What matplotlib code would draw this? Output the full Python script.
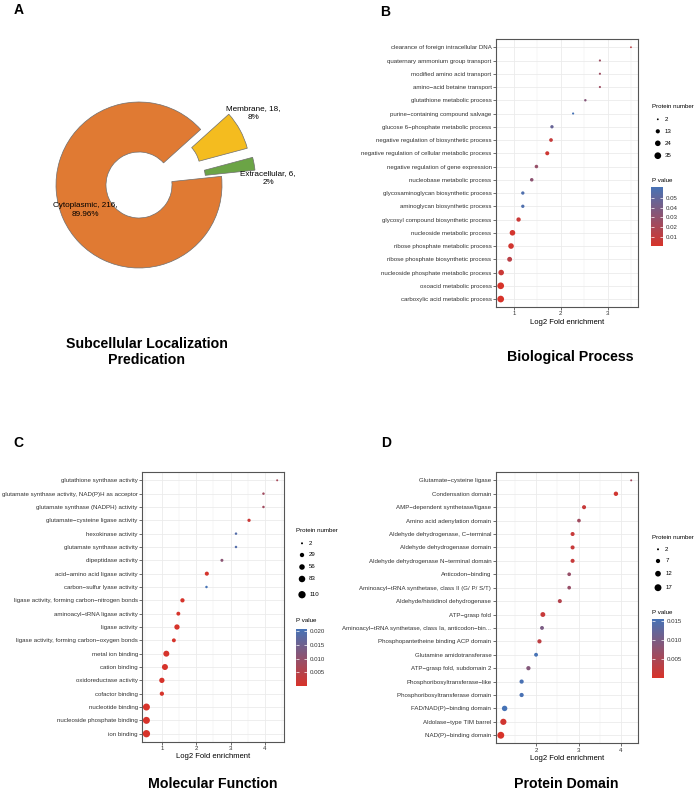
import numpy as np
import matplotlib
matplotlib.use("Agg")
import matplotlib.pyplot as plt
from matplotlib.colors import LinearSegmentedColormap, Normalize
from matplotlib.cm import ScalarMappable

plt.rcParams['font.family'] = ['Liberation Sans', 'DejaVu Sans']

# ---------------- DATA ----------------
loc_labels = ["Extracellular", "Membrane", "Cytoplasmic"]
loc_counts = [6, 18, 216]
loc_pct = ["2%", "8%", "89.96%"]
loc_colors = ["#6BA446", "#F4BC1F", "#E07A33"]

bp_terms = ["clearance of foreign intracellular DNA", "quaternary ammonium group transport",
            "modified amino acid transport", "amino\u2212acid betaine transport",
            "glutathione metabolic process", "purine\u2212containing compound salvage",
            "glucose 6\u2212phosphate metabolic process", "negative regulation of biosynthetic process",
            "negative regulation of cellular metabolic process", "negative regulation of gene expression",
            "nucleobase metabolic process", "glycosaminoglycan biosynthetic process",
            "aminoglycan biosynthetic process", "glycosyl compound biosynthetic process",
            "nucleoside metabolic process", "ribose phosphate metabolic process",
            "ribose phosphate biosynthetic process", "nucleoside phosphate metabolic process",
            "oxoacid metabolic process", "carboxylic acid metabolic process"]
bp_fold = [3.49, 2.83, 2.83, 2.83, 2.52, 2.26, 1.81, 1.79, 1.71, 1.48,
           1.38, 1.19, 1.19, 1.10, 0.97, 0.94, 0.91, 0.73, 0.72, 0.72]
bp_count = [2, 3, 3, 3, 4, 3, 8, 10, 12, 9, 9, 8, 8, 14, 24, 24, 18, 24, 35, 35]
bp_p = [0.012, 0.025, 0.025, 0.025, 0.035, 0.062, 0.048, 0.008, 0.004, 0.028,
        0.032, 0.058, 0.058, 0.006, 0.002, 0.003, 0.013, 0.006, 0.0005, 0.0003]
bp_size_breaks = [2, 13, 24, 35]
bp_p_breaks = [0.01, 0.02, 0.03, 0.04, 0.05]

mf_terms = ["glutathione synthase activity", "glutamate synthase activity, NAD(P)H as acceptor",
            "glutamate synthase (NADPH) activity", "glutamate\u2212cysteine ligase activity",
            "hexokinase activity", "glutamate synthase activity", "dipeptidase activity",
            "acid\u2212amino acid ligase activity", "carbon\u2212sulfur lyase activity",
            "ligase activity, forming carbon\u2212nitrogen bonds", "aminoacyl\u2212tRNA ligase activity",
            "ligase activity", "ligase activity, forming carbon\u2212oxygen bonds", "metal ion binding",
            "cation binding", "oxidoreductase activity", "cofactor binding", "nucleotide binding",
            "nucleoside phosphate binding", "ion binding"]
mf_fold = [4.36, 3.96, 3.96, 3.54, 3.16, 3.16, 2.75, 2.31, 2.30, 1.60,
           1.48, 1.44, 1.35, 1.13, 1.09, 1.00, 1.00, 0.55, 0.55, 0.55]
mf_count = [2, 5, 5, 13, 5, 5, 10, 25, 5, 28, 22, 50, 22, 68, 68, 50, 28, 99, 99, 110]
mf_p = [0.007, 0.008, 0.008, 0.002, 0.019, 0.019, 0.011, 0.0005, 0.0208, 0.0003,
        0.0003, 0.0002, 0.0003, 0.0002, 0.0002, 0.0002, 0.0003, 0.0001, 0.0001, 0.0001]
mf_size_breaks = [2, 29, 56, 83, 110]
mf_p_breaks = [0.005, 0.010, 0.015, 0.020]

pd_terms = ["Glutamate\u2212cysteine ligase", "Condensation domain", "AMP\u2212dependent synthetase/ligase",
            "Amino acid adenylation domain", "Aldehyde dehydrogenase, C\u2212terminal",
            "Aldehyde dehydrogenase domain", "Aldehyde dehydrogenase N\u2212terminal domain",
            "Anticodon\u2212binding", "Aminoacyl\u2212tRNA synthetase, class II (G/ P/ S/T)",
            "Aldehyde/histidinol dehydrogenase", "ATP\u2212grasp fold",
            "Aminoacyl\u2212tRNA synthetase, class Ia, anticodon\u2212bin...",
            "Phosphopantetheine binding ACP domain", "Glutamine amidotransferase",
            "ATP\u2212grasp fold, subdomain 2", "Phosphoribosyltransferase\u2212like",
            "Phosphoribosyltransferase domain", "FAD/NAD(P)\u2212binding domain",
            "Aldolase\u2212type TIM barrel", "NAD(P)\u2212binding domain"]
pd_fold = [4.24, 3.88, 3.13, 3.01, 2.86, 2.86, 2.86, 2.78, 2.78, 2.56,
           2.16, 2.14, 2.08, 2.00, 1.82, 1.66, 1.66, 1.26, 1.23, 1.17]
pd_count = [2, 7.5, 6.5, 5.5, 6.5, 6.5, 6.5, 5.5, 5.5, 6.5, 9, 6, 7, 6, 7, 7, 7, 11, 14, 17]
pd_p = [0.006, 0.001, 0.002, 0.006, 0.002, 0.002, 0.002, 0.007, 0.007, 0.004,
        0.002, 0.010, 0.003, 0.0155, 0.009, 0.0152, 0.0152, 0.0156, 0.001, 0.0002]
pd_size_breaks = [2, 7, 12, 17]
pd_p_breaks = [0.005, 0.010, 0.015]

# ---------------- LAYOUT ----------------
W, H = 696, 792
fig = plt.figure(figsize=(W / 100, H / 100), dpi=100)

def box(l, t, r, b):
    return [l / W, 1 - b / H, (r - l) / W, (b - t) / H]

cmap = LinearSegmentedColormap.from_list("pv", ["#D7332A", "#4673B6"])

def diam(v, vmin, vmax, dmin, dmax):
    v = np.asarray(v, dtype=float)
    return dmin + (dmax - dmin) * (np.sqrt(v) - np.sqrt(vmin)) / (np.sqrt(vmax) - np.sqrt(vmin))

overlay = fig.add_axes([0, 0, 1, 1], zorder=5)
overlay.set_xlim(0, W)
overlay.set_ylim(H, 0)
overlay.axis('off')
overlay.patch.set_alpha(0)

def dotplot(terms, fold, count, pv, axbox, xlim, majors, minors, sizes, dlim,
            leg_x, size_title_y, size_ys, pv_breaks, cbar_box, pv_title_y, fmt):
    ax = fig.add_axes(box(*axbox))
    n = len(terms)
    ypos = np.arange(n)[::-1] + 1
    vmin, vmax = min(count), max(count)
    d = diam(count, vmin, vmax, *dlim)
    norm = Normalize(min(pv), max(pv))
    ax.scatter(fold, ypos, s=(d * 0.72) ** 2, c=pv, cmap=cmap, norm=norm,
               linewidths=0, zorder=3)
    ax.set_xlim(*xlim)
    ax.set_ylim(0.4, n + 0.6)
    ax.set_yticks(ypos)
    ax.set_yticklabels(terms)
    ax.set_xticks(majors)
    ax.set_xticks(minors, minor=True)
    ax.grid(True, which='major', color='#EBEBEB', lw=0.6, zorder=0)
    ax.grid(True, which='minor', axis='x', color='#EBEBEB', lw=0.35, zorder=0)
    ax.set_axisbelow(True)
    ax.tick_params(axis='both', which='major', labelsize=4.4, length=2, width=0.5,
                   colors='#333333', pad=1.2)
    ax.tick_params(axis='x', which='minor', length=0)
    for sp in ax.spines.values():
        sp.set_color('#555555')
        sp.set_linewidth(0.8)
    ax.set_xlabel("Log2 Fold enrichment", fontsize=5.5, labelpad=1.5, color='black')
    # size legend
    overlay.text(leg_x, size_title_y, "Protein number", fontsize=4.4, ha='left', va='center')
    bd = diam(sizes, vmin, vmax, *dlim)
    overlay.scatter([leg_x + 6.3] * len(sizes), size_ys, s=(bd * 0.72) ** 2, c='black', linewidths=0)
    for sv, yy in zip(sizes, size_ys):
        overlay.text(leg_x + 13.5, yy, str(sv), fontsize=4.4, ha='left', va='center')
    overlay.text(leg_x, pv_title_y, "P value", fontsize=4.4, ha='left', va='center')
    cax = fig.add_axes(box(*cbar_box))
    cb = fig.colorbar(ScalarMappable(norm=norm, cmap=cmap), cax=cax)
    cb.outline.set_visible(False)
    cb.set_ticks(pv_breaks)
    cb.set_ticklabels([fmt.format(b) for b in pv_breaks])
    cax.tick_params(length=2, width=0.5, color='white', direction='in', labelsize=4.4,
                    pad=2, left=True, right=True, labelleft=False, labelright=True,
                    labelcolor='#333333')
    return ax

# Panel B
dotplot(bp_terms, bp_fold, bp_count, bp_p, (496, 39.3, 638, 307), (0.62, 3.64),
        [1, 2, 3], [1.5, 2.5, 3.5], bp_size_breaks, (1.8, 6.7),
        651.5, 106, [119.3, 131.3, 143.3, 155.7], bp_p_breaks,
        (651, 186.7, 663.3, 246), 180.7, "{:.2f}")
# Panel C
dotplot(mf_terms, mf_fold, mf_count, mf_p, (142.3, 472.3, 283.7, 741.7), (0.43, 4.55),
        [1, 2, 3, 4], [0.5, 1.5, 2.5, 3.5, 4.5], mf_size_breaks, (2.0, 7.3),
        295.7, 531, [543.3, 555, 567, 579, 594.7], mf_p_breaks,
        (295.7, 629, 307.3, 685.7), 620.3, "{:.3f}")
# Panel D
dotplot(pd_terms, pd_fold, pd_count, pd_p, (495.7, 472.3, 638, 743.3), (1.05, 4.4),
        [2, 3, 4], [1.5, 2.5, 3.5], pd_size_breaks, (2.0, 6.9),
        651.7, 537.3, [549.3, 561, 573.7, 587.7], pd_p_breaks,
        (651.7, 619, 663.7, 677.7), 612.7, "{:.3f}")

# Panel A donut
axp = fig.add_axes(box(0, 0, 348, 400))
wedges, _ = axp.pie(loc_counts, colors=loc_colors, startangle=6, counterclock=True,
                    radius=83, center=(139, 215), explode=[34, 32, 0],
                    wedgeprops=dict(width=50, edgecolor='#6E6E6E', linewidth=0.5))
axp.set_xlim(0, 348)
axp.set_ylim(0, 400)
axp.set_aspect('auto')
axp.axis('off')
lab_pos = {"Cytoplasmic": (85, 190), "Membrane": (253, 287), "Extracellular": (268, 221.5)}
for lab, cnt, pct in zip(loc_labels, loc_counts, loc_pct):
    x, y = lab_pos[lab]
    axp.text(x, y, f"{lab}, {cnt},\n{pct}", fontsize=5.9, ha='center', va='center',
             linespacing=1.4)

# panel letters and titles
for t, x, y in [("A", 19, 10), ("B", 385, 12), ("C", 18, 442.7), ("D", 386, 442.7)]:
    overlay.text(x, y, t, fontsize=10, fontweight='bold', ha='center', va='center')
overlay.text(146.7, 352, "Subcellular Localization\nPredication", fontsize=10.2,
             fontweight='bold', ha='center', va='center', linespacing=1.2)
overlay.text(570.7, 356.7, "Biological Process", fontsize=10.2, fontweight='bold', ha='center', va='center')
overlay.text(213, 784, "Molecular Function", fontsize=10.2, fontweight='bold', ha='center', va='center')
overlay.text(566, 784, "Protein Domain", fontsize=10.2, fontweight='bold', ha='center', va='center')

fig.savefig("out.png", dpi=100)
